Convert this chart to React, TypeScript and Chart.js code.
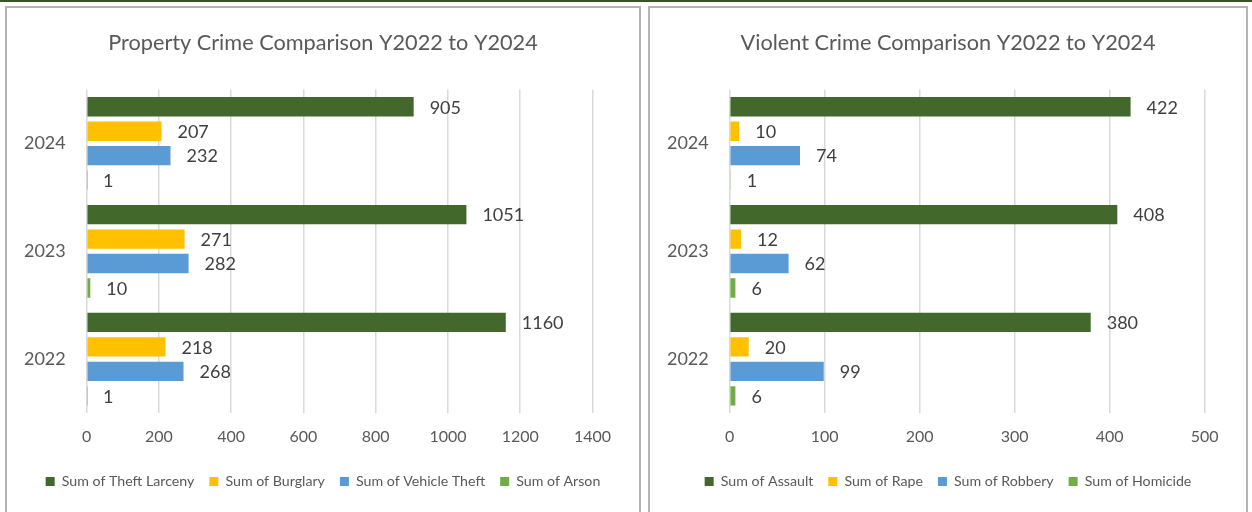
import React, { useEffect, useRef } from "react";
import { Chart, registerables } from "chart.js";

Chart.register(...registerables);

// ---- Data ----
const years = ["2024", "2023", "2022"];

const theftLarceny = [905, 1051, 1160];
const burglary = [207, 271, 218];
const vehicleTheft = [232, 282, 268];
const arson = [1, 10, 1];

const assault = [422, 408, 380];
const rape = [10, 12, 20];
const robbery = [74, 62, 99];
const homicide = [1, 6, 6];

const propertyMax = 1400;
const propertyStep = 200;
const violentMax = 500;
const violentStep = 100;

const DARK_GREEN = "#43682b";
const YELLOW = "#ffc000";
const BLUE = "#5b9bd5";
const LIGHT_GREEN = "#70ad47";

const FONT = "Lato";

const valueLabels = {
  id: "valueLabels",
  afterDatasetsDraw(chart: any) {
    const ctx = chart.ctx;
    ctx.save();
    ctx.font = `18px ${FONT}`;
    ctx.fillStyle = "#404040";
    ctx.textAlign = "left";
    ctx.textBaseline = "middle";
    chart.data.datasets.forEach((ds: any, i: number) => {
      const meta = chart.getDatasetMeta(i);
      meta.data.forEach((bar: any, j: number) => {
        ctx.fillText(String(ds.data[j]), bar.x + 16, bar.y + 1);
      });
    });
    ctx.restore();
  },
};

type Series = { label: string; data: number[]; color: string };

function BarPanel(props: {
  title: string;
  series: Series[];
  max: number;
  step: number;
  width: number;
  height: number;
  rightPad: number;
}) {
  const ref = useRef<HTMLCanvasElement>(null);
  useEffect(() => {
    const chart = new Chart(ref.current as HTMLCanvasElement, {
      type: "bar",
      data: {
        labels: years,
        datasets: props.series.map((s) => ({
          label: s.label,
          data: s.data,
          backgroundColor: s.color,
          categoryPercentage: 0.907,
          barPercentage: 0.79,
        })),
      },
      options: {
        indexAxis: "y",
        responsive: false,
        animation: false,
        devicePixelRatio: 1,
        layout: { padding: { left: 0, right: 0, top: 0, bottom: 13.5 } },
        plugins: {
          title: {
            display: true,
            text: props.title,
            color: "#595959",
            font: { family: FONT, size: 21.7, weight: "normal" },
            padding: { top: 22, bottom: 33.5 },
          },
          legend: {
            position: "bottom",
            labels: {
              color: "#595959",
              font: { family: FONT, size: 14.2 },
              boxWidth: 9,
              boxHeight: 9,
              padding: 15,
            },
          },
          tooltip: { enabled: false },
        },
        scales: {
          x: {
            min: 0,
            max: props.max,
            ticks: {
              stepSize: props.step,
              color: "#595959",
              font: { family: FONT, size: 16 },
              padding: 14,
              callback: (v: any) => String(v),
            },
            grid: { color: "#d9d9d9", lineWidth: 1.5, drawTicks: false },
            border: { display: false },
            afterFit(s: any) {
              s.height = 46.25;
            },
          },
          y: {
            ticks: {
              color: "#595959",
              font: { family: FONT, size: 18 },
              padding: 21,
            },
            grid: { display: false, drawTicks: false },
            border: { display: false },
            afterFit(s: any) {
              s.width = 79.7;
            },
          },
          ySpacer: {
            type: "category",
            labels: years,
            position: "right",
            display: true,
            ticks: { display: false },
            grid: { display: false, drawTicks: false },
            border: { display: false },
            afterFit(s: any) {
              s.width = props.rightPad;
            },
          },
        },
      } as any,
      plugins: [valueLabels],
    });
    return () => chart.destroy();
  }, []);
  return (
    <canvas
      ref={ref}
      width={props.width}
      height={props.height}
      style={{ display: "block", width: props.width, height: props.height }}
    />
  );
}

export default function App() {
  const panelStyle = (left: number, width: number): React.CSSProperties => ({
    position: "absolute",
    left,
    top: 6,
    width,
    height: 506,
    boxSizing: "border-box",
    border: "2px solid #b4b4b4",
    borderBottom: "none",
    background: "#fff",
    overflow: "hidden",
  });
  return (
    <div
      style={{
        position: "absolute",
        left: 0,
        top: 0,
        width: 1252,
        height: 512,
        background: "#fff",
        overflow: "hidden",
      }}
    >
      <div style={{ position: "absolute", left: 0, top: 0, width: 1252, height: 2, background: "#375623" }} />
      <div style={panelStyle(5, 636)}>
        <BarPanel
          title="Property Crime Comparison Y2022 to Y2024"
          series={[
            { label: "Sum of Theft Larceny", data: theftLarceny, color: DARK_GREEN },
            { label: "Sum of Burglary", data: burglary, color: YELLOW },
            { label: "Sum of Vehicle Theft", data: vehicleTheft, color: BLUE },
            { label: "Sum of Arson", data: arson, color: LIGHT_GREEN },
          ]}
          max={propertyMax}
          step={propertyStep}
          width={632}
          height={504}
          rightPad={46.5}
        />
      </div>
      <div style={panelStyle(648, 600)}>
        <BarPanel
          title="Violent Crime Comparison Y2022 to Y2024"
          series={[
            { label: "Sum of Assault", data: assault, color: DARK_GREEN },
            { label: "Sum of Rape", data: rape, color: YELLOW },
            { label: "Sum of Robbery", data: robbery, color: BLUE },
            { label: "Sum of Homicide", data: homicide, color: LIGHT_GREEN },
          ]}
          max={violentMax}
          step={violentStep}
          width={596}
          height={504}
          rightPad={41.3}
        />
      </div>
    </div>
  );
}
